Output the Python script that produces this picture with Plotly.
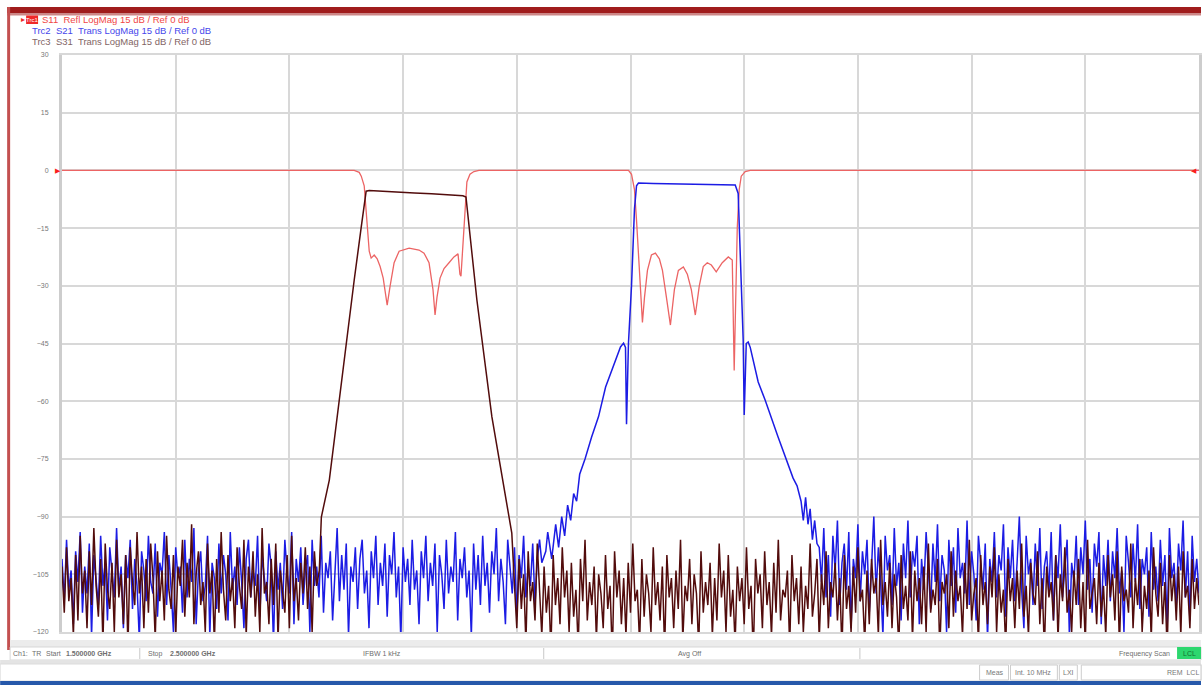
import plotly.graph_objects as go

# ---------------- sweep / scale settings ----------------
START_MHZ = 1500
STOP_MHZ = 2500
FREQ_DIV_MHZ = 100
NOISE_STEP_MHZ = 2
REF_LEVEL_DB = 0
Y_TOP_DB = 30
Y_BOTTOM_DB = -120
DB_PER_DIV = 15

TRACE_LABELS = [
    "S11  Refl LogMag 15 dB / Ref 0 dB",
    "Trc2  S21  Trans LogMag 15 dB / Ref 0 dB",
    "Trc3  S31  Trans LogMag 15 dB / Ref 0 dB",
]

# ---------------- S11 (red) ----------------
S11_FREQ_MHZ = [1500, 1757.0, 1761.4, 1763.2, 1765.8, 1767.5, 1769.3, 1770.2, 1771.9, 1774.6,
                1777.2, 1779.8, 1782.5, 1786.0, 1788.6, 1792.1, 1796.5, 1805.3, 1814.0, 1818.4,
                1822.8, 1826.3, 1828.1, 1829.8, 1832.5, 1836.0, 1840.4, 1844.7, 1848.3, 1850.0,
                1850.9, 1852.6, 1854.4, 1856.1, 1858.8, 1862.3, 1866.7, 1998.2, 2000.9, 2003.5,
                2005.3, 2007.0, 2008.8, 2010.5, 2012.3, 2014.9, 2018.4, 2021.9, 2025.4, 2028.1,
                2031.6, 2035.1, 2038.6, 2042.1, 2046.5, 2050.0, 2053.5, 2057.0, 2060.5, 2064.0,
                2067.5, 2071.1, 2075.4, 2080.7, 2086.0, 2089.5, 2091.2, 2092.1, 2093.9, 2095.6,
                2097.4, 2100.9, 2105.3, 2500]
S11_DB = [0, 0, -0.5, -1.5, -4.0, -10.0, -18.0, -21.0, -22.8, -22.0,
          -23.0, -25.0, -28.0, -35.0, -30.0, -24.0, -21.0, -20.2, -20.7, -21.5,
          -24.0, -31.0, -37.6, -33.0, -28.0, -25.5, -24.0, -22.5, -21.7, -27.0,
          -27.5, -20.0, -10.0, -3.0, -1.0, -0.3, 0, 0, -1.0, -5.0,
          -13.0, -22.0, -31.0, -39.5, -33.0, -26.0, -22.0, -21.5, -23.0, -26.0,
          -33.0, -40.2, -31.0, -26.0, -25.1, -27.0, -31.0, -37.6, -30.0, -25.0,
          -24.0, -24.6, -26.4, -24.0, -22.5, -23.3, -52.0, -40.0, -15.0, -5.0,
          -1.5, -0.3, 0, 0]

# ---------------- S21 (blue) ----------------
S21_NOISE_LO_START_MHZ = 1500
S21_NOISE_LO_DB = [
    -101, -112, -96, -109, -104, -118, -99, -107, -94, -115, -103, -110, -97, -121, -100, -106, -113, -95, -108, -102,
    -117, -98, -105, -111, -93, -109, -103, -119, -100, -106, -96, -114, -101, -108, -122, -99, -104, -112, -95, -107,
    -110, -97, -116, -102, -105, -94, -113, -100, -109, -120, -98, -106, -103, -115, -96, -111, -101, -107, -93, -118,
    -104, -99, -112, -108, -95, -121, -102, -106, -114, -97, -110, -100, -105, -117, -94, -109, -103, -113, -98, -107,
    -119, -101, -96, -111, -104, -108, -95, -116, -100, -106, -112, -97, -103, -123, -99, -109, -102, -114, -96, -105,
    -110, -94, -118, -101, -107, -98, -113, -104, -100, -120, -96, -108, -103, -111, -95, -115, -102, -106, -99, -117,
    -105, -93, -112, -100, -109, -97, -121, -103, -107, -98, -114, -101, -96, -110, -104, -119, -99, -106, -95, -113,
    -102, -108, -97, -116, -100, -105, -94, -111, -103, -122, -98, -107, -101, -113, -96, -109, -104, -118, -99, -106,
    -95, -112, -102, -108, -97, -120, -100, -105, -114, -96, -110, -103, -107, -94, -117, -101, -106, -98, -111, -104,
    -121, -97, -109, -100, -113, -95, -108, -102, -115, -99, -105, -93, -112, -101, -107, -118, -96, -104, -110, -98,
    -116, -100, -106, -95, -111, -103, -108, -97, -113, -101, -96, -102]
S21_SHAPE_FREQ_MHZ = [1925.5, 1927.2, 1930.7, 1934.2, 1936.8, 1939.5, 1942.1, 1944.7, 1947.4, 1950.0,
                      1952.6, 1955.3, 1960.0, 1965.8, 1971.9, 1978.1, 1985.1, 1991.2, 1993.9, 1995.6,
                      1996.5, 1997.4, 1998.2, 2000.9, 2003.5, 2005.3, 2007.0, 2020, 2040, 2060,
                      2080, 2092.1, 2094.7, 2096.5, 2098.3, 2099.1, 2100.0, 2100.9, 2101.8, 2103.5,
                      2105.3, 2112.3, 2118.4, 2129.8, 2143.0, 2146.5, 2150.0, 2152.0, 2154.0, 2156.1,
                      2158.0, 2160.0, 2162.0, 2164.0]
S21_SHAPE_DB = [-99, -94, -101, -92, -98, -90, -95, -87, -91, -84,
                -86, -79, -75, -69.3, -64, -56.3, -50.5, -45.9, -44.9, -46,
                -66, -50, -45, -30, -10, -4, -3.3, -3.4, -3.5, -3.6,
                -3.7, -3.8, -6, -20, -38, -44, -63.6, -52, -45, -44.6,
                -46, -55, -59.7, -69.3, -80, -82, -86, -91, -85, -92,
                -88, -96, -91, -97]
S21_NOISE_HI_START_MHZ = 2166
S21_NOISE_HI_DB = [
    -98, -107, -93, -111, -100, -116, -95, -104, -91, -113, -102, -97, -109, -94, -119, -101, -106, -92, -112, -99,
    -105, -96, -115, -103, -90, -110, -98, -107, -121, -95, -104, -100, -113, -93, -108, -102, -117, -97, -106, -91,
    -111, -99, -103, -95, -118, -101, -109, -94, -105, -114, -97, -107, -92, -112, -100, -104, -120, -96, -108, -98,
    -115, -93, -106, -102, -110, -91, -113, -99, -105, -117, -95, -103, -109, -97, -122, -101, -107, -94, -111, -100,
    -104, -92, -116, -98, -106, -96, -112, -102, -90, -109, -119, -95, -105, -101, -113, -97, -108, -93, -114, -103,
    -99, -110, -94, -117, -100, -106, -92, -111, -104, -96, -121, -102, -107, -95, -113, -98, -105, -91, -109, -101,
    -115, -97, -103, -94, -118, -100, -108, -96, -112, -99, -106, -93, -110, -104, -120, -95, -102, -111, -97, -107,
    -92, -114, -101, -105, -98, -116, -94, -109, -103, -112, -96, -108, -100, -119, -93, -106, -102, -113, -97, -104,
    -91, -111, -99, -117, -95, -107, -101, -110]

# ---------------- S31 (dark brown) ----------------
S31_NOISE_LO_START_MHZ = 1500
S31_NOISE_LO_DB = [
    -103, -115, -98, -112, -106, -121, -100, -117, -95, -110, -104, -119, -99, -113, -93, -108, -116, -101, -123, -97,
    -109, -114, -102, -120, -96, -111, -105, -118, -100, -124, -98, -107, -113, -94, -110, -103, -119, -101, -115, -97,
    -106, -122, -99, -112, -104, -117, -95, -109, -114, -100, -121, -103, -108, -96, -116, -102, -111, -92, -118, -105,
    -99, -113, -107, -120, -97, -110, -104, -123, -101, -115, -94, -109, -117, -100, -112, -106, -119, -98, -108, -114,
    -96, -121, -103, -111, -99, -116, -105, -120, -93, -110, -107, -118, -101, -113, -97, -122, -104, -109, -115, -100,
    -119, -95, -112, -106, -117, -102, -110, -98, -114, -103, -120, -99, -108]
S31_SHAPE_FREQ_MHZ = [1726.3, 1727.2, 1728.1, 1735.1, 1743.9, 1750.9, 1754.4, 1757.0, 1763.2, 1767.5,
                      1770.2, 1780, 1795, 1810, 1825, 1840, 1852.6, 1855.3, 1864.9, 1878.1,
                      1893.0, 1895.6]
S31_SHAPE_DB = [-104, -93, -90.1, -80.5, -59.7, -42.3, -33.7, -28.5, -14.7, -5.4,
                -5.2, -5.4, -5.7, -5.9, -6.1, -6.4, -6.6, -6.9, -33.7, -64.1,
                -90.1, -94.3]
S31_NOISE_HI_START_MHZ = 1898
S31_NOISE_HI_DB = [
    -108, -119, -101, -114, -105, -123, -99, -112, -107, -117, -97, -110, -121, -103, -115, -108, -125, -100, -113, -106,
    -118, -98, -111, -104, -120, -102, -116, -109, -124, -101, -112, -96, -117, -107, -113, -103, -122, -105, -110, -119,
    -100, -114, -108, -126, -99, -111, -104, -118, -106, -121, -102, -115, -97, -112, -109, -123, -101, -116, -105, -110,
    -120, -98, -113, -107, -117, -103, -125, -100, -111, -106, -119, -104, -114, -96, -122, -108, -112, -101, -118, -105,
    -110, -124, -99, -115, -107, -113, -102, -121, -106, -117, -97, -111, -104, -120, -100, -116, -109, -123, -103, -112,
    -106, -118, -98, -114, -108, -126, -101, -110, -105, -119, -99, -113, -107, -121, -102, -115, -96, -117, -109, -111,
    -104, -124, -100, -112, -106, -118, -103, -120, -108, -114, -97, -116, -110, -101, -122, -105, -113, -99, -119, -107,
    -111, -102, -117, -106, -125, -100, -114, -108, -120, -103, -115, -98, -112, -109, -123, -104, -118, -101, -110, -106,
    -121, -96, -113, -107, -116, -102, -119, -105, -111, -124, -100, -114, -108, -117, -99, -122, -104, -112, -106, -118,
    -103, -120, -97, -115, -109, -113, -101, -125, -107, -110, -105, -119, -99, -116, -104, -112, -108, -121, -102, -114,
    -96, -117, -110, -106, -123, -100, -113, -107, -118, -103, -111, -98, -120, -105, -115, -109, -124, -101, -112, -106,
    -119, -104, -114, -97, -116, -108, -121, -102, -110, -113, -99, -118, -106, -125, -103, -111, -107, -117, -100, -122,
    -105, -112, -98, -115, -109, -120, -104, -113, -101, -119, -107, -123, -96, -114, -110, -106, -118, -102, -116, -108,
    -121, -100, -111, -105, -117, -99, -124, -103, -112, -109, -115, -97, -119, -106, -113, -101, -120, -108, -114, -104,
    -122, -98, -110, -116, -102, -118, -107, -125, -100, -112, -105, -117, -103, -121, -99, -111, -108, -119, -101, -114,
    -106, -113]

# ---------------- status bar texts ----------------
STATUS_ROW1 = [("Ch1:", 11), ("TR", 30), ("Start", 44), ("<b>1.500000 GHz</b>", 64),
               ("Stop", 146), ("<b>2.500000 GHz</b>", 168), ("IFBW 1 kHz", 362),
               ("Avg Off", 678), ("Frequency Scan", 1120)]
STATUS_ROW2 = [("Meas", 986), ("Int. 10 MHz", 1016), ("LXI", 1064), ("REM  LCL", 1168)]


def sweep(start, values):
    return [start + NOISE_STEP_MHZ * i for i in range(len(values))]


s21_x = sweep(S21_NOISE_LO_START_MHZ, S21_NOISE_LO_DB) + S21_SHAPE_FREQ_MHZ + sweep(S21_NOISE_HI_START_MHZ, S21_NOISE_HI_DB)
s21_y = S21_NOISE_LO_DB + S21_SHAPE_DB + S21_NOISE_HI_DB
s31_x = sweep(S31_NOISE_LO_START_MHZ, S31_NOISE_LO_DB) + S31_SHAPE_FREQ_MHZ + sweep(S31_NOISE_HI_START_MHZ, S31_NOISE_HI_DB)
s31_y = S31_NOISE_LO_DB + S31_SHAPE_DB + S31_NOISE_HI_DB

W, H = 1204, 685
L, R, T, B = 62, 2, 55, 53
PW, PH = W - L - R, H - T - B


def fx(px):
    return (px - L) / PW


def fy(py):
    return (T + PH - py) / PH


RED = "rgb(236,100,100)"
BLUE = "rgb(28,28,228)"
BROWN = "rgb(82,12,12)"

fig = go.Figure()
fig.add_trace(go.Scatter(x=S11_FREQ_MHZ, y=S11_DB, mode="lines", line=dict(color=RED, width=1.3), name="S11"))
fig.add_trace(go.Scatter(x=s21_x, y=s21_y, mode="lines", line=dict(color=BLUE, width=1.5), name="S21"))
fig.add_trace(go.Scatter(x=s31_x, y=s31_y, mode="lines", line=dict(color=BROWN, width=1.5), name="S31"))

GRID = "rgb(216,216,216)"
fig.update_xaxes(range=[START_MHZ, STOP_MHZ], dtick=FREQ_DIV_MHZ, tick0=START_MHZ, showgrid=True,
                 gridcolor=GRID, gridwidth=2, showticklabels=False, zeroline=False,
                 showline=True, mirror=True, linecolor=GRID, linewidth=2)
fig.update_yaxes(range=[Y_BOTTOM_DB, Y_TOP_DB], dtick=DB_PER_DIV, tick0=0, showgrid=True,
                 gridcolor=GRID, gridwidth=2, zeroline=False, showline=True, mirror=True,
                 linecolor="rgb(205,205,205)", linewidth=3, ticks="",
                 tickfont=dict(family="Liberation Sans", size=7, color="rgb(120,120,120)"),
                 ticklabelstandoff=9)

shapes = []
# window title bar and frame
shapes.append(dict(type="rect", xref="paper", yref="paper", x0=fx(7), x1=fx(1204), y0=fy(13), y1=fy(7),
                   fillcolor="rgb(160,28,28)", line_width=0, layer="above"))
shapes.append(dict(type="rect", xref="paper", yref="paper", x0=fx(7), x1=fx(1204), y0=fy(15.5), y1=fy(13),
                   fillcolor="rgb(205,135,135)", line_width=0, layer="above"))
shapes.append(dict(type="rect", xref="paper", yref="paper", x0=fx(7), x1=fx(10), y0=fy(650), y1=fy(7),
                   fillcolor="rgb(195,80,80)", line_width=0, layer="above"))
# status rows
shapes.append(dict(type="rect", xref="paper", yref="paper", x0=fx(10), x1=fx(1204), y0=fy(647), y1=fy(640),
                   fillcolor="rgb(236,236,236)", line_width=0))
shapes.append(dict(type="rect", xref="paper", yref="paper", x0=fx(10), x1=fx(1204), y0=fy(660), y1=fy(647),
                   fillcolor="white", line=dict(color="rgb(215,215,215)", width=1)))
shapes.append(dict(type="rect", xref="paper", yref="paper", x0=fx(0), x1=fx(1204), y0=fy(664), y1=fy(660),
                   fillcolor="rgb(228,228,228)", line_width=0))
shapes.append(dict(type="rect", xref="paper", yref="paper", x0=fx(0), x1=fx(1204), y0=fy(681), y1=fy(664),
                   fillcolor="white", line=dict(color="rgb(220,220,220)", width=1)))
shapes.append(dict(type="rect", xref="paper", yref="paper", x0=fx(0), x1=fx(1204), y0=fy(685), y1=fy(681),
                   fillcolor="rgb(38,88,170)", line_width=0))
for sx in (140, 545, 862):
    shapes.append(dict(type="line", xref="paper", yref="paper", x0=fx(sx), x1=fx(sx), y0=fy(659), y1=fy(648),
                       line=dict(color="rgb(200,200,200)", width=1)))
for bx0, bx1 in ((982, 1011), (1013, 1060), (1062, 1080), (1084, 1204)):
    shapes.append(dict(type="rect", xref="paper", yref="paper", x0=fx(bx0), x1=fx(bx1), y0=fy(680), y1=fy(665),
                       fillcolor="white", line=dict(color="rgb(205,205,205)", width=1)))
shapes.append(dict(type="rect", xref="paper", yref="paper", x0=fx(1180), x1=fx(1204), y0=fy(659), y1=fy(647),
                   fillcolor="rgb(45,215,110)", line_width=0))
# active trace box
shapes.append(dict(type="rect", xref="paper", yref="paper", x0=fx(26), x1=fx(38), y0=fy(24), y1=fy(15.5),
                   fillcolor="rgb(240,40,40)", line_width=0, layer="above"))

ann = []
label_colors = ["rgb(240,70,70)", "rgb(70,70,235)", "rgb(130,100,100)"]
label_pos = [(40, 19.5), (30, 30.5), (30, 41.5)]
for text, col, (px, py) in zip(TRACE_LABELS, label_colors, label_pos):
    ann.append(dict(text=text, xref="paper", yref="paper", x=fx(px), y=fy(py), xanchor="left", yanchor="middle",
                    showarrow=False, font=dict(family="Liberation Sans", size=9.5, color=col)))
ann.append(dict(text="Trc1", xref="paper", yref="paper", x=fx(32), y=fy(20), xanchor="center",
                yanchor="middle", showarrow=False, font=dict(family="Liberation Sans", size=6, color="white")))
ann.append(dict(text="\u25B8", xref="paper", yref="paper", x=fx(22.5), y=fy(19.5), xanchor="center",
                yanchor="middle", showarrow=False, font=dict(size=8, color="rgb(240,40,40)")))
# reference level markers
ann.append(dict(text="\u25B6", xref="paper", yref="y", x=fx(58), y=REF_LEVEL_DB, xanchor="center",
                yanchor="middle", showarrow=False, font=dict(size=7, color="rgb(250,30,30)")))
ann.append(dict(text="\u25C0", xref="paper", yref="y", x=1.0, y=REF_LEVEL_DB, xanchor="right",
                yanchor="middle", showarrow=False, font=dict(size=7, color="rgb(250,30,30)")))
for text, px in STATUS_ROW1:
    ann.append(dict(text=text, xref="paper", yref="paper", x=fx(px), y=fy(653.5), xanchor="left",
                    yanchor="middle", showarrow=False,
                    font=dict(family="Liberation Sans", size=7, color="rgb(110,110,110)")))
ann.append(dict(text="LCL", xref="paper", yref="paper", x=fx(1192), y=fy(653.5), xanchor="center",
                yanchor="middle", showarrow=False, font=dict(family="Liberation Sans", size=7, color="rgb(20,110,50)")))
for text, px in STATUS_ROW2:
    ann.append(dict(text=text, xref="paper", yref="paper", x=fx(px), y=fy(672.5), xanchor="left",
                    yanchor="middle", showarrow=False,
                    font=dict(family="Liberation Sans", size=7, color="rgb(120,120,120)")))

fig.update_layout(width=W, height=H, margin=dict(l=L, r=R, t=T, b=B, pad=0),
                  paper_bgcolor="white", plot_bgcolor="white", showlegend=False,
                  shapes=shapes, annotations=ann, hovermode=False,
                  font=dict(family="Liberation Sans"))

fig.write_html("out.html", config={"displayModeBar": False, "staticPlot": True},
               post_script="document.body.style.margin='0';document.body.style.overflow='hidden';")
